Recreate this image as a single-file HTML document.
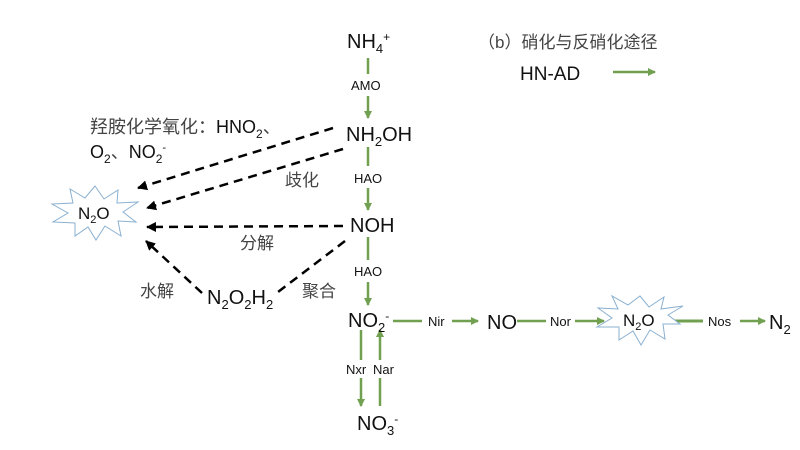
<!DOCTYPE html>
<html><head><meta charset="utf-8"><style>
html,body{margin:0;padding:0;background:#fff}
svg{display:block}
text{font-family:"Liberation Sans","Noto Sans CJK SC",sans-serif;fill:#111}
.cn{fill:#444}
</style></head><body>
<svg width="800" height="450" viewBox="0 0 800 450" xmlns="http://www.w3.org/2000/svg">
<defs>
<marker id="g" markerWidth="8" markerHeight="8" refX="7" refY="4" orient="auto" markerUnits="userSpaceOnUse"><path d="M0,0 L8,4 L0,8 z" fill="#70a050"/></marker>
<marker id="k" markerWidth="10" markerHeight="10" refX="9" refY="5" orient="auto" markerUnits="userSpaceOnUse"><path d="M0,0 L10,5 L0,10 z" fill="#000"/></marker>
</defs>
<g stroke="#70a050" stroke-width="2.5" fill="none">
<line x1="368" y1="58" x2="368" y2="74"/><line x1="368" y1="96" x2="368" y2="118" marker-end="url(#g)"/>
<line x1="368" y1="147" x2="368" y2="166"/><line x1="368" y1="188" x2="368" y2="210" marker-end="url(#g)"/>
<line x1="368" y1="237" x2="368" y2="260"/><line x1="368" y1="282" x2="368" y2="305" marker-end="url(#g)"/>
<line x1="361" y1="330" x2="361" y2="360"/><line x1="361" y1="378" x2="361" y2="406" marker-end="url(#g)"/>
<line x1="380" y1="406" x2="380" y2="378"/><line x1="380" y1="360" x2="380" y2="330" marker-end="url(#g)"/>
<line x1="393" y1="321" x2="422" y2="321"/><line x1="452" y1="321" x2="478" y2="321" marker-end="url(#g)"/>
<line x1="517" y1="321" x2="546" y2="321"/><line x1="575" y1="321" x2="604" y2="321" marker-end="url(#g)"/>
<line x1="675" y1="321" x2="703" y2="321" stroke-width="3"/><line x1="740" y1="321" x2="765" y2="321" marker-end="url(#g)"/>
<line x1="613" y1="72" x2="655" y2="72" marker-end="url(#g)"/>
</g>
<g stroke="#000" stroke-width="2.5" stroke-dasharray="9,6" fill="none">
<line x1="333" y1="128" x2="138" y2="188" marker-end="url(#k)"/>
<line x1="343" y1="149" x2="147" y2="208" marker-end="url(#k)"/>
<line x1="343" y1="226" x2="147" y2="227" marker-end="url(#k)"/>
<line x1="345" y1="241" x2="278" y2="292"/>
<line x1="202" y1="293" x2="146" y2="241" marker-end="url(#k)"/>
</g>
<polygon fill="#fff" stroke="#8ab0d0" stroke-width="1" points="95,186 104,199 118,190 117,203 138,202 123,212 136,222 118,221 121,236 105,226 96,240 88,227 75,236 75,223 53,222 68,213 52,204 73,203 70,189 85,198"/>
<polygon fill="#fff" stroke="#8ab0d0" stroke-width="1" points="640,296 649,307 664,297 661,309 683,306 668,315 680,324 663,324 665,339 650,330 641,345 633,331 619,340 619,327 597,327 612,318 598,308 618,309 612,296 628,305"/>
<g font-size="20">
<text x="347" y="48">NH<tspan font-size="13" dy="5">4</tspan><tspan font-size="12" dy="-12">+</tspan></text>
<text x="346" y="141">NH<tspan font-size="13" dy="5">2</tspan><tspan dy="-5">OH</tspan></text>
<text x="350" y="232">NOH</text>
<text x="348" y="327">NO<tspan font-size="13" dy="5">2</tspan><tspan font-size="12" dy="-12">-</tspan></text>
<text x="357" y="430">NO<tspan font-size="13" dy="5">3</tspan><tspan font-size="12" dy="-12">-</tspan></text>
<text x="487" y="329">NO</text>
<text x="769" y="329">N<tspan font-size="13" dy="5">2</tspan></text>
<text x="207" y="304">N<tspan font-size="13" dy="5">2</tspan><tspan dy="-5">O</tspan><tspan font-size="13" dy="5">2</tspan><tspan dy="-5">H</tspan><tspan font-size="13" dy="5">2</tspan></text>
<text x="520" y="80" font-size="19">HN-AD</text>
</g>
<g font-size="17">
<text x="78" y="219">N<tspan font-size="11" dy="4">2</tspan><tspan dy="-4">O</tspan></text>
<text x="623" y="326">N<tspan font-size="11" dy="4">2</tspan><tspan dy="-4">O</tspan></text>
<text x="90" y="133" font-size="18"><tspan class="cn">羟胺化学氧化：</tspan>HNO<tspan font-size="12" dy="5">2</tspan><tspan dy="-5" class="cn">、</tspan></text>
<text x="90" y="158" font-size="18">O<tspan font-size="12" dy="5">2</tspan><tspan dy="-5" class="cn">、</tspan>NO<tspan font-size="12" dy="5">2</tspan><tspan font-size="11" dy="-12">-</tspan></text>
<text x="285" y="186" class="cn">歧化</text>
<text x="240" y="249" class="cn">分解</text>
<text x="140" y="297" class="cn">水解</text>
<text x="302" y="297" class="cn">聚合</text>
<text x="478" y="48" class="cn">（b）硝化与反硝化途径</text>
</g>
<g font-size="13">
<text x="351" y="90">AMO</text>
<text x="354" y="183">HAO</text>
<text x="354" y="276">HAO</text>
<text x="346" y="374">Nxr</text>
<text x="373" y="374">Nar</text>
<text x="428" y="326">Nir</text>
<text x="550" y="326">Nor</text>
<text x="708" y="326">Nos</text>
</g>
</svg>
</body></html>
